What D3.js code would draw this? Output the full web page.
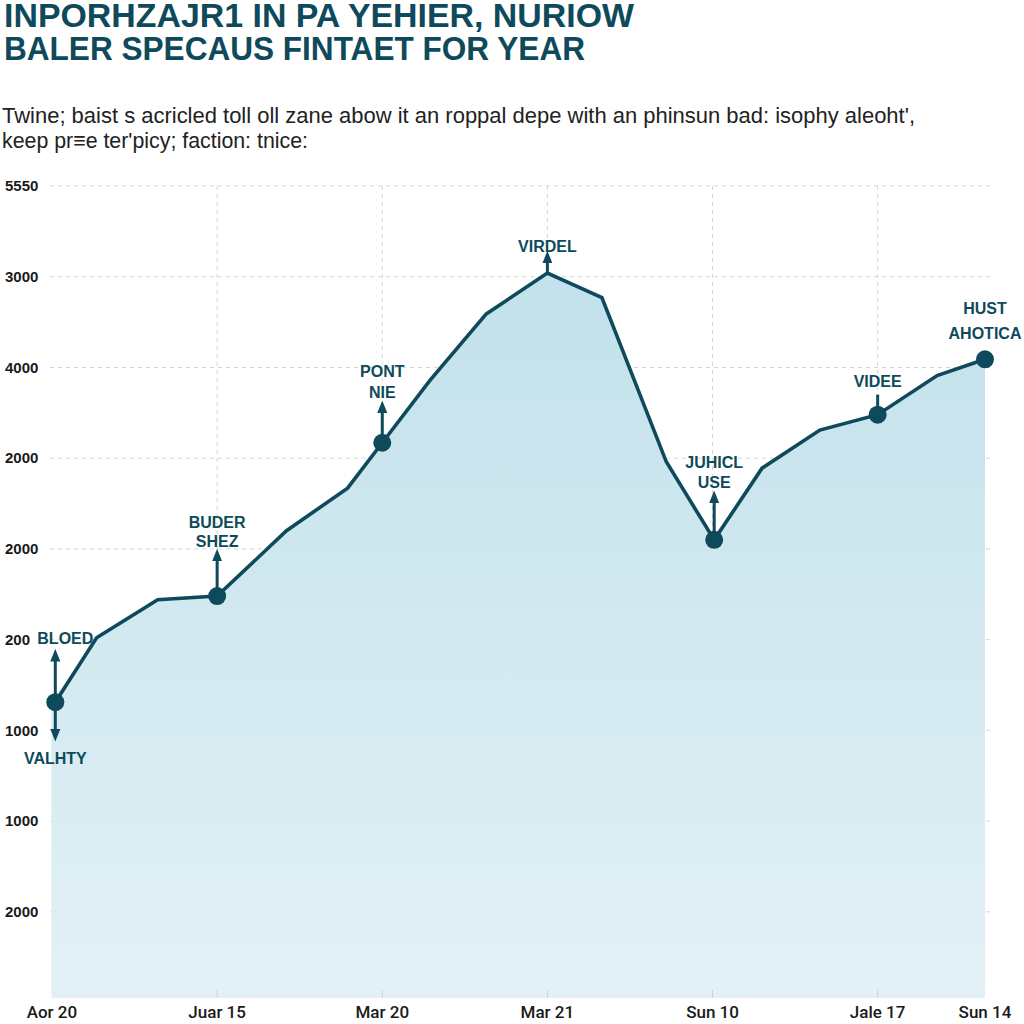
<!DOCTYPE html>
<html><head><meta charset="utf-8">
<script src="https://cdn.jsdelivr.net/npm/d3@7"></script>
<style>html,body{margin:0;padding:0;background:#fff;}svg{display:block;}</style>
</head><body>
<svg id="c" width="1024" height="1024"></svg>
<script>
const titleLines = ["INPORHZAJR1 IN PA YEHIER, NURIOW", "BALER SPECAUS FINTAET FOR YEAR"];
const subtitleLines = ["Twine; baist s acricled toll oll zane abow it an roppal depe with an phinsun bad: isophy aleoht',", "keep pr≡e ter'picy; faction: tnice:"];
const xTickLabels = ["Aor 20","Juar 15","Mar 20","Mar 21","Sun 10","Jale 17","Sun 14"];
const xTickPos = [0, 1, 2, 3, 4, 5, 5.65];
const yTickLabels = ["2000","1000","1000","200","2000","2000","4000","3000","5550"];
const yTickPos = [0, 1, 2, 3, 4, 5, 6, 7, 8];
const xVals = [0.02, 0.27, 0.64, 1.0, 1.42, 1.79, 2.0, 2.29, 2.63, 3.0, 3.33, 3.72, 4.01, 4.3, 4.65, 5.0, 5.36, 5.65];
const yVals = [2.31, 3.02, 3.44, 3.48, 4.2, 4.67, 5.17, 5.86, 6.59, 7.04, 6.77, 4.96, 4.1, 4.89, 5.31, 5.48, 5.91, 6.09];
const markerIdx = [0, 3, 6, 12, 15, 17];
const annoIdx   = [0, 3, 6, 9, 12, 15, 17];
const annoText  = [["BLOED"], ["BUDER","SHEZ"], ["PONT","NIE"], ["VIRDEL"], ["JUHICL","USE"], ["VIDEE"], ["HUST","AHOTICA"]];
const annoBottom = ["VALHTY"];

const svg = d3.select("#c");
const x = d3.scaleLinear().domain([0, 5.65]).range([52, 985]);
const y = d3.scaleLinear().domain([-0.95, 8]).range([998, 186]);
const ink = "#0e4a5b";

// titles
svg.append("g").selectAll("text").data(titleLines).join("text")
  .attr("x", 4).attr("y", (d,i) => 27 + i*33)
  .attr("textLength", (d,i) => i === 0 ? 630 : 581)
  .attr("lengthAdjust", "spacingAndGlyphs")
  .attr("font-family", "Liberation Sans, Arial, sans-serif").attr("font-weight", "bold")
  .attr("font-size", 34).attr("fill", ink).text(d => d);
svg.append("g").selectAll("text").data(subtitleLines).join("text")
  .attr("x", 2).attr("y", (d,i) => 123 + i*25)
  .attr("textLength", (d,i) => i === 0 ? 913 : 306)
  .attr("lengthAdjust", "spacingAndGlyphs")
  .attr("font-family", "Liberation Sans, Arial, sans-serif")
  .attr("font-size", 22).attr("fill", "#222").text(d => d);

// defs
const defs = svg.append("defs");
const grad = defs.append("linearGradient").attr("id", "ag").attr("gradientUnits", "userSpaceOnUse")
  .attr("x1", 0).attr("x2", 0).attr("y1", y(7.04)).attr("y2", y(-0.95));
grad.append("stop").attr("offset", 0).attr("stop-color", "#c2e1eb");
grad.append("stop").attr("offset", 1).attr("stop-color", "#e3f1f6");
defs.append("marker").attr("id", "ah").attr("viewBox", "0 0 10 10").attr("refX", 5).attr("refY", 5)
  .attr("markerWidth", 4.2).attr("markerHeight", 4.2).attr("orient", "auto-start-reverse")
  .attr("markerUnits", "strokeWidth")
  .append("path").attr("d", "M0,1 L10,5 L0,9 Z").attr("fill", ink);

// grid
const grid = svg.append("g");
grid.selectAll("line.h").data(yTickPos).join("line")
  .attr("x1", 50).attr("x2", 990).attr("y1", d => y(d)).attr("y2", d => y(d))
  .attr("stroke", "#d6d6d6").attr("stroke-width", 1).attr("stroke-dasharray", "4,4");
grid.selectAll("line.v").data(xTickPos.slice(1, 6)).join("line")
  .attr("x1", d => x(d)).attr("x2", d => x(d)).attr("y1", y(8)).attr("y2", y(-0.95))
  .attr("stroke", "#d6d6d6").attr("stroke-width", 1).attr("stroke-dasharray", "4,4");

const pts = xVals.map((v,i) => [v, yVals[i]]);
// area (extends slightly left of the first point as in the reference)
const areaGen = d3.area().x((d,i) => x(d[0]) - (i === 0 ? 4 : 0)).y0(y(-0.95)).y1(d => y(d[1]));
svg.append("path").datum(pts).attr("d", areaGen).attr("fill", "url(#ag)");
svg.append("g").selectAll("line").data(xTickPos.slice(1, 6)).join("line")
  .attr("x1", d => x(d)).attr("x2", d => x(d)).attr("y1", y(-0.95) - 8).attr("y2", y(-0.95))
  .attr("stroke", "#c9d6dc").attr("stroke-width", 1);

// y labels
svg.append("g").selectAll("text").data(yTickPos).join("text")
  .attr("x", 5).attr("y", d => y(d)).attr("dy", "0.35em")
  .attr("font-family", "Liberation Sans, Arial, sans-serif").attr("font-weight", "bold")
  .attr("font-size", 15).attr("fill", "#1a1a1a").text((d,i) => yTickLabels[i]);
// x labels
svg.append("g").selectAll("text").data(xTickPos).join("text")
  .attr("x", d => x(d)).attr("y", 1018).attr("text-anchor", "middle")
  .attr("font-family", "Roboto, Liberation Sans, sans-serif").attr("font-weight", 500)
  .attr("font-size", 17).attr("fill", "#1a1a1a").text((d,i) => xTickLabels[i]);

// line
svg.append("path").datum(pts)
  .attr("d", d3.line().x(d => x(d[0])).y(d => y(d[1])))
  .attr("fill", "none").attr("stroke", ink).attr("stroke-width", 3.6).attr("stroke-linejoin", "miter");

// arrows
const arrowUp = [47, 41, 36, 16, 43, 0, 0];
const stemOnly = [0, 0, 0, 0, 0, 20, 0];
const ag = svg.append("g");
annoIdx.forEach((idx, k) => {
  const px = x(xVals[idx]), py = y(yVals[idx]);
  if (arrowUp[k] > 0) {
    ag.append("line").attr("x1", px).attr("y1", py).attr("x2", px).attr("y2", py - arrowUp[k])
      .attr("stroke", ink).attr("stroke-width", 3).attr("marker-end", "url(#ah)");
  }
  if (stemOnly[k] > 0) {
    ag.append("line").attr("x1", px).attr("y1", py).attr("x2", px).attr("y2", py - stemOnly[k])
      .attr("stroke", ink).attr("stroke-width", 3);
  }
});
{
  const px = x(xVals[0]), py = y(yVals[0]);
  ag.append("line").attr("x1", px).attr("y1", py).attr("x2", px).attr("y2", py + 33)
    .attr("stroke", ink).attr("stroke-width", 3).attr("marker-end", "url(#ah)");
}

// markers
svg.append("g").selectAll("circle").data(markerIdx).join("circle")
  .attr("cx", i => x(xVals[i])).attr("cy", i => y(yVals[i])).attr("r", 9).attr("fill", ink);

// annotation labels
const labelDx = [10, 0, 0, 0, 0, 0, 0];
const labelDy = [[-64], [-74,-55], [-71,-50], [-27], [-77,-57], [-33], [-51,-26]];
const tg = svg.append("g").attr("font-family", "Liberation Sans, Arial, sans-serif")
  .attr("font-weight", "bold").attr("font-size", 16).attr("fill", ink).attr("text-anchor", "middle");
annoIdx.forEach((idx, k) => {
  const px = x(xVals[idx]), py = y(yVals[idx]);
  annoText[k].forEach((t, j) => {
    tg.append("text").attr("x", px + labelDx[k]).attr("y", py + labelDy[k][j]).attr("dy", "0.35em").text(t);
  });
});
tg.append("text").attr("x", x(xVals[0])).attr("y", y(yVals[0]) + 56).attr("dy", "0.35em").text(annoBottom[0]);
</script>
</body></html>
